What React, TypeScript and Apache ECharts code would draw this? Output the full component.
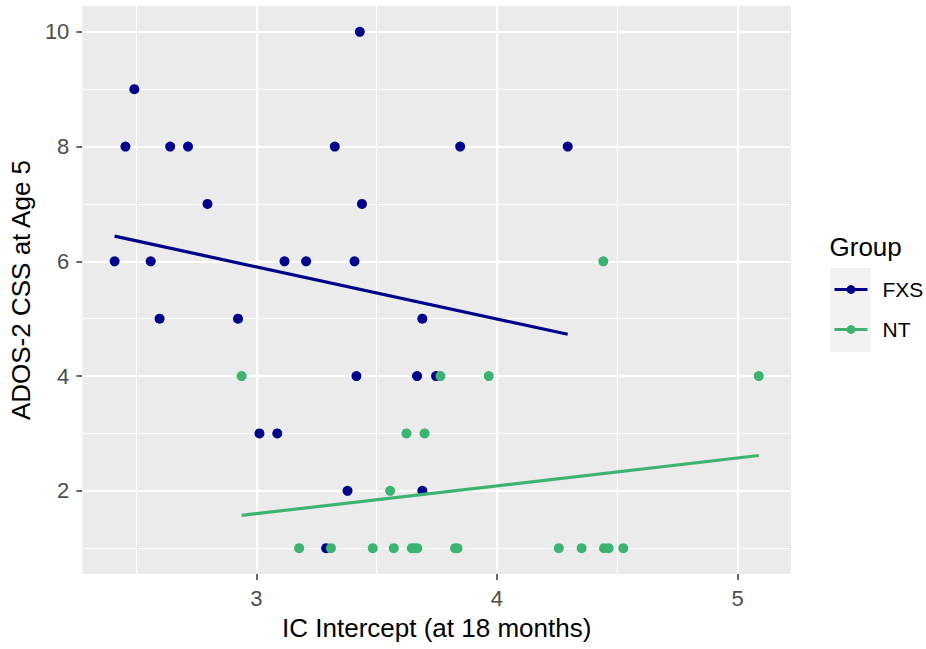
import React, { useEffect, useRef } from "react";
import * as echarts from "echarts";

// FXS group (IC intercept at 18 months, ADOS-2 CSS at age 5)
const fxsX = [2.411, 2.456, 2.493, 2.561, 2.598, 2.642, 2.716, 2.797, 2.924, 3.013, 3.087, 3.117, 3.207, 3.326, 3.408, 3.416, 3.43, 3.439, 3.379, 3.29, 3.668, 3.69, 3.69, 3.747, 3.847, 4.294];
const fxsY = [6, 8, 9, 6, 5, 8, 8, 7, 5, 3, 3, 6, 6, 8, 6, 4, 10, 7, 2, 1, 4, 5, 2, 4, 8, 8];

// NT group
const ntX = [2.939, 3.765, 3.966, 5.088, 4.442, 3.624, 3.699, 3.556, 3.178, 3.31, 3.484, 3.571, 3.646, 3.656, 3.669, 3.826, 3.836, 4.257, 4.352, 4.445, 4.464, 4.525];
const ntY = [4, 4, 4, 4, 6, 3, 3, 2, 1, 1, 1, 1, 1, 1, 1, 1, 1, 1, 1, 1, 1, 1];

// fitted linear trend lines (endpoints over each group's x range)
const fxsFitX = [2.411, 4.294];
const fxsFitY = [6.438, 4.728];
const ntFitX = [2.939, 5.088];
const ntFitY = [1.572, 2.615];

// axes
const xTicks = [3, 4, 5];
const xMinor = [2.5, 3.5, 4.5];
const yTicks = [2, 4, 6, 8, 10];
const yMinor = [1, 3, 5, 7, 9];
const xRange = [2.277, 5.222];
const yRange = [0.55, 10.45];

const groups = ["FXS", "NT"];
const colors = ["#00008B", "#3CB371"];

const FONT = "'Liberation Sans', Arial, Helvetica, sans-serif";

const zip = (xs: number[], ys: number[]) => xs.map((x, i) => [x, ys[i]]);

export default function App() {
  const ref = useRef<HTMLDivElement>(null);
  useEffect(() => {
    if (!ref.current) return;
    const chart = echarts.init(ref.current, null, { renderer: "svg" });
    const gridLines = [
      ...xTicks.map((v) => ({ xAxis: v, lineStyle: { width: 2.2 } })),
      ...xMinor.map((v) => ({ xAxis: v, lineStyle: { width: 1.1 } })),
      ...yTicks.map((v) => ({ yAxis: v, lineStyle: { width: 2.2 } })),
      ...yMinor.map((v) => ({ yAxis: v, lineStyle: { width: 1.1 } })),
    ];
    chart.setOption({
      animation: false,
      backgroundColor: "#FFFFFF",
      textStyle: { fontFamily: FONT },
      grid: {
        left: 81,
        top: 6,
        width: 710,
        height: 568,
        show: true,
        backgroundColor: "#EBEBEB",
        borderWidth: 0,
      },
      xAxis: {
        type: "value",
        min: xRange[0],
        max: xRange[1],
        name: "IC Intercept (at 18 months)",
        nameLocation: "middle",
        nameGap: 41,
        nameTextStyle: { fontSize: 26, color: "#000000", fontFamily: FONT },
        axisLine: { show: false },
        splitLine: { show: false },
        axisTick: {
          show: true,
          length: 6,
          customValues: xTicks,
          lineStyle: { color: "#333333", width: 1.5 },
        },
        axisLabel: {
          customValues: xTicks,
          fontSize: 22,
          color: "#4D4D4D",
          margin: 13,
          fontFamily: FONT,
        },
      },
      yAxis: {
        type: "value",
        min: yRange[0],
        max: yRange[1],
        name: "ADOS-2 CSS at Age 5",
        nameLocation: "middle",
        nameRotate: 90,
        nameGap: 44,
        nameTextStyle: { fontSize: 26, color: "#000000", fontFamily: FONT },
        axisLine: { show: false },
        splitLine: { show: false },
        axisTick: {
          show: true,
          length: 6,
          customValues: yTicks,
          lineStyle: { color: "#333333", width: 1.5 },
        },
        axisLabel: {
          customValues: yTicks,
          fontSize: 22,
          color: "#4D4D4D",
          margin: 13,
          fontFamily: FONT,
        },
      },
      legend: {
        orient: "vertical",
        left: 833,
        top: 279,
        padding: 0,
        itemWidth: 33,
        itemHeight: 11,
        itemGap: 19,
        selectedMode: false,
        data: groups,
        lineStyle: { width: 3 },
        textStyle: { fontSize: 21, color: "#000000", fontFamily: FONT, padding: [0, 0, 0, 10] },
      },
      graphic: [
        {
          type: "rect",
          left: 830,
          top: 268,
          shape: { width: 41, height: 84 },
          style: { fill: "#F2F2F2" },
          z: -1,
        },
        {
          type: "text",
          left: 829.5,
          top: 234,
          style: { text: "Group", fontSize: 26, fill: "#000000", fontFamily: FONT },
        },
      ],
      series: [
        {
          name: groups[0],
          type: "line",
          data: zip(fxsFitX, fxsFitY),
          showSymbol: false,
          symbol: "circle",
          symbolSize: 10,
          lineStyle: { color: colors[0], width: 3.2 },
          itemStyle: { color: colors[0] },
          z: 4,
          silent: true,
        },
        {
          name: groups[1],
          type: "line",
          data: zip(ntFitX, ntFitY),
          showSymbol: false,
          symbol: "circle",
          symbolSize: 10,
          lineStyle: { color: colors[1], width: 3.2 },
          itemStyle: { color: colors[1] },
          z: 4,
          silent: true,
        },
        {
          name: groups[0],
          type: "scatter",
          data: zip(fxsX, fxsY),
          symbolSize: 10,
          itemStyle: { color: colors[0], opacity: 1 },
          z: 3,
        },
        {
          name: groups[1],
          type: "scatter",
          data: zip(ntX, ntY),
          symbolSize: 10,
          itemStyle: { color: colors[1], opacity: 1 },
          z: 3,
        },
        {
          name: "grid",
          type: "line",
          data: [],
          z: 1,
          silent: true,
          markLine: {
            silent: true,
            z: 1,
            symbol: ["none", "none"],
            label: { show: false },
            lineStyle: { color: "#FFFFFF", type: "solid" },
            emphasis: { disabled: true },
            data: gridLines,
          },
        },
      ],
    });
    return () => chart.dispose();
  }, []);
  return (
    <div
      ref={ref}
      style={{ position: "fixed", left: 0, top: 0, width: 926, height: 649, background: "#FFFFFF" }}
    />
  );
}
